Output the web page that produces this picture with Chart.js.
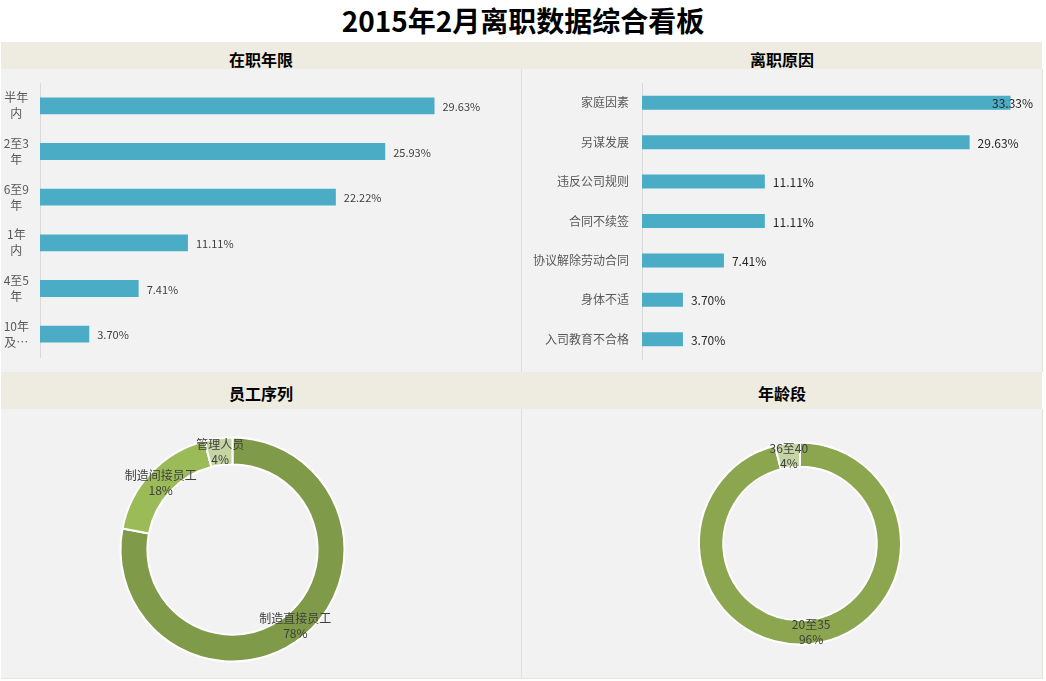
<!DOCTYPE html>
<html>
<head>
<meta charset="utf-8">
<script src="https://cdn.jsdelivr.net/npm/chart.js@4.4.1/dist/chart.umd.min.js"></script>
<style>
body{margin:0;background:#fff;font-family:"Noto Sans CJK SC","Noto Sans",sans-serif;}
#board{position:relative;width:1046px;height:681px;overflow:hidden;}
.title{position:absolute;left:0;top:0;width:1046px;height:42px;line-height:40px;text-align:center;font-size:28px;font-weight:bold;color:#000;}
.head{position:absolute;left:1px;width:1041px;background:#EEECE1;}
.body{position:absolute;background:#F2F2F2;}
.cap{position:absolute;height:24px;line-height:24px;text-align:center;font-size:16px;font-weight:bold;color:#000;}
.vline{position:absolute;width:1px;background:#E2E0D6;}
canvas{position:absolute;}
</style>
</head>
<body>
<div id="board">
  <div class="title">2015年2月离职数据综合看板</div>

  <div class="head" style="top:42px;height:27px;"></div>
  <div class="cap" style="left:1px;width:520px;top:47px;">在职年限</div>
  <div class="cap" style="left:522px;width:520px;top:47px;">离职原因</div>
  <div class="body" style="left:1px;top:69px;width:520px;height:303px;"></div>
  <div class="body" style="left:522px;top:69px;width:520px;height:303px;"></div>

  <div class="head" style="top:372px;height:37px;"></div>
  <div class="cap" style="left:1px;width:520px;top:381px;">员工序列</div>
  <div class="cap" style="left:522px;width:520px;top:381px;">年龄段</div>
  <div class="body" style="left:1px;top:409px;width:520px;height:269px;"></div>
  <div class="body" style="left:522px;top:409px;width:520px;height:269px;"></div>

  <div class="vline" style="left:521px;top:69px;height:303px;"></div>
  <div class="vline" style="left:521px;top:409px;height:269px;"></div>
  <div class="vline" style="left:1042px;top:69px;height:303px;"></div>
  <div class="vline" style="left:1042px;top:409px;height:269px;"></div>
  <div style="position:absolute;left:1px;top:678px;width:1042px;height:1px;background:#E8E6DC;"></div>

  <canvas id="tenure" width="519" height="303" style="left:2px;top:69px;"></canvas>
  <canvas id="reason" width="520" height="303" style="left:522px;top:69px;"></canvas>
  <canvas id="staff" width="519" height="269" style="left:2px;top:409px;"></canvas>
  <canvas id="age" width="520" height="269" style="left:522px;top:409px;"></canvas>
</div>

<script>
// 在职年限
var tenureLabels = [['半年','内'], ['2至3','年'], ['6至9','年'], ['1年','内'], ['4至5','年'], ['10年','及…']];
var tenureValues = [29.63, 25.93, 22.22, 11.11, 7.41, 3.70];

// 离职原因
var reasonLabels = ['家庭因素', '另谋发展', '违反公司规则', '合同不续签', '协议解除劳动合同', '身体不适', '入司教育不合格'];
var reasonValues = [33.33, 29.63, 11.11, 11.11, 7.41, 3.70, 3.70];

// 员工序列
var staffLabels = ['制造直接员工', '制造间接员工', '管理人员'];
var staffValues = [78, 18, 4];

// 年龄段
var ageLabels = ['20至35', '36至40'];
var ageValues = [96, 4];

var FONT = '"Noto Sans CJK SC", "Noto Sans", sans-serif';
Chart.defaults.font.family = FONT;

// value labels to the right of the bars
var barValueLabels = {
	id: 'barValueLabels',
	afterDatasetsDraw: function(chart, args, opts){
		var ctx = chart.ctx;
		var meta = chart.getDatasetMeta(0);
		var vals = chart.data.datasets[0].data;
		ctx.save();
		ctx.font = opts.size + 'px ' + FONT;
		ctx.fillStyle = opts.color;
		ctx.textBaseline = 'middle';
		ctx.textAlign = 'left';
		meta.data.forEach(function(bar, i){
			var txt = vals[i].toFixed(2) + '%';
			var w = ctx.measureText(txt).width;
			var x = Math.min(bar.x + 8, chart.width - 9 - w);
			ctx.fillText(txt, x, bar.y + 1);
		});
		ctx.restore();
	}
};

// name + percent in the middle of each ring slice
var ringLabels = {
	id: 'ringLabels',
	afterDatasetsDraw: function(chart){
		var ctx = chart.ctx;
		var meta = chart.getDatasetMeta(0);
		var vals = chart.data.datasets[0].data;
		ctx.save();
		ctx.font = '12px ' + FONT;
		ctx.fillStyle = '#404040';
		ctx.textAlign = 'center';
		ctx.textBaseline = 'middle';
		meta.data.forEach(function(arc, i){
			var p = arc.tooltipPosition();
			ctx.fillText(chart.data.labels[i], p.x, p.y - 7);
			ctx.fillText(vals[i] + '%', p.x, p.y + 8);
		});
		ctx.restore();
	}
};

function barChart(id, labels, values, o){
	return new Chart(document.getElementById(id), {
		type: 'bar',
		data: {
			labels: labels,
			datasets: [{
				data: values,
				backgroundColor: '#4BACC6',
				categoryPercentage: 1,
				barPercentage: o.barPct
			}]
		},
		options: {
			indexAxis: 'y',
			responsive: false,
			animation: false,
			events: [],
			layout: {padding: o.pad},
			plugins: {
				legend: {display: false},
				tooltip: {enabled: false},
				barValueLabels: {size: o.valSize, color: o.valColor}
			},
			scales: {
				x: {display: false, min: 0, max: 35},
				y: {
					grid: {display: false, drawTicks: false, tickLength: 0},
					border: {display: true, color: '#D9D9D9', width: 1},
					ticks: {
						crossAlign: o.align,
						padding: o.tickPad,
						color: '#595959',
						font: {size: 12, lineHeight: 1.35}
					},
					afterFit: function(s){
						s.width = o.axisX;
						s.paddingTop = 0;
						s.paddingBottom = 0;
					}
				}
			}
		},
		plugins: [barValueLabels]
	});
}

function ringChart(id, labels, values, colors, o){
	return new Chart(document.getElementById(id), {
		type: 'doughnut',
		data: {
			labels: labels,
			datasets: [{
				data: values,
				backgroundColor: colors,
				borderColor: '#FFFFFF',
				borderWidth: 2
			}]
		},
		options: {
			responsive: false,
			animation: false,
			events: [],
			radius: o.radius,
			cutout: '76%',
			layout: {padding: o.pad},
			plugins: {legend: {display: false}, tooltip: {enabled: false}}
		},
		plugins: [ringLabels]
	});
}

barChart('tenure', tenureLabels, tenureValues, {
	barPct: 0.37, axisX: 38, align: 'center', tickPad: 11,
	pad: {top: 14, bottom: 15, left: 0, right: 15},
	valSize: 11, valColor: '#404040'
});

barChart('reason', reasonLabels, reasonValues, {
	barPct: 0.355, axisX: 120, align: 'near', tickPad: 13,
	pad: {top: 14, bottom: 13, left: 0, right: 13},
	valSize: 12, valColor: '#262626'
});

ringChart('staff', staffLabels, staffValues, ['#7F9A48', '#9BBB59', '#C4D5A2'], {
	radius: 112, pad: {top: 12, bottom: 0, left: 0, right: 58}
});

ringChart('age', ageLabels, ageValues, ['#8BA64F', '#C4D5A2'], {
	radius: 101, pad: {top: 0, bottom: 0, left: 36, right: 0}
});
</script>
</body>
</html>
